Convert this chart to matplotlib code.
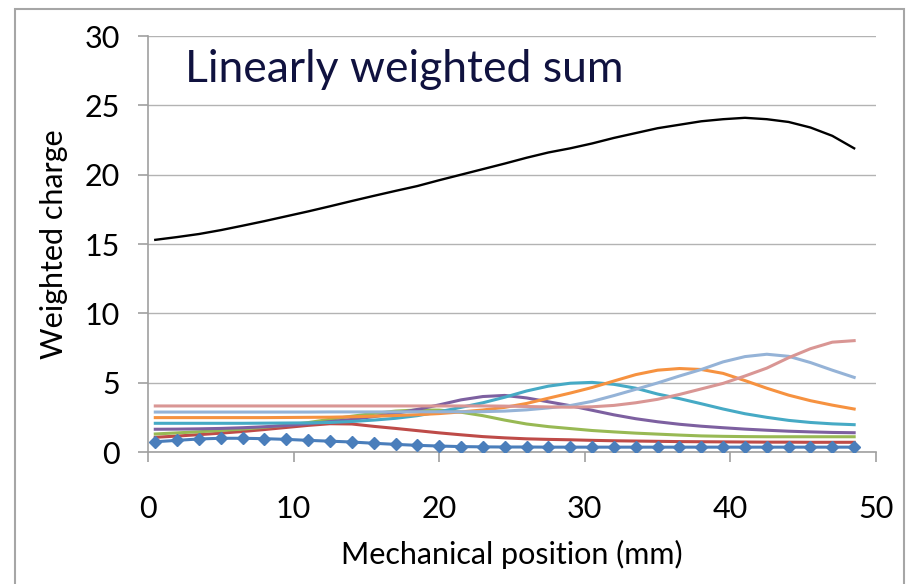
import matplotlib
matplotlib.use("Agg")
import matplotlib.pyplot as plt
from matplotlib.patches import Rectangle

plt.rcParams['font.family'] = ['Lato', 'DejaVu Sans']

# positions along the strip (mm)
position = [0.5, 2, 3.5, 5, 6.5, 8, 9.5, 11, 12.5, 14, 15.5, 17, 18.5, 20, 21.5, 23,
            24.5, 26, 27.5, 29, 30.5, 32, 33.5, 35, 36.5, 38, 39.5, 41, 42.5, 44,
            45.5, 47, 48.5]

# weighted charge per strip (weight 1..8)
strip1 = [0.74, 0.84, 0.94, 0.99, 0.99, 0.96, 0.91, 0.84, 0.78, 0.72, 0.63, 0.55, 0.48,
          0.43, 0.39, 0.37, 0.36, 0.36, 0.35, 0.35, 0.35, 0.35, 0.35, 0.35, 0.35, 0.35,
          0.35, 0.35, 0.35, 0.35, 0.35, 0.35, 0.35]
strip2 = [1.06, 1.15, 1.25, 1.36, 1.48, 1.62, 1.77, 1.92, 2.04, 2.02, 1.85, 1.70, 1.54,
          1.38, 1.24, 1.11, 1.02, 0.95, 0.91, 0.88, 0.84, 0.81, 0.79, 0.77, 0.75, 0.74,
          0.73, 0.72, 0.71, 0.71, 0.70, 0.70, 0.70]
strip3 = [1.30, 1.38, 1.46, 1.55, 1.65, 1.78, 1.93, 2.12, 2.36, 2.58, 2.78, 2.95, 3.03,
          3.02, 2.87, 2.62, 2.30, 2.02, 1.83, 1.69, 1.55, 1.45, 1.36, 1.29, 1.22, 1.16,
          1.13, 1.11, 1.10, 1.10, 1.10, 1.10, 1.10]
strip4 = [1.64, 1.65, 1.67, 1.70, 1.75, 1.82, 1.91, 2.03, 2.19, 2.35, 2.55, 2.78, 3.07,
          3.40, 3.76, 4.00, 4.08, 3.90, 3.62, 3.34, 3.01, 2.68, 2.40, 2.18, 2.00, 1.86,
          1.75, 1.65, 1.57, 1.50, 1.45, 1.41, 1.39]
strip5 = [2.07, 2.07, 2.07, 2.07, 2.07, 2.08, 2.09, 2.10, 2.13, 2.20, 2.30, 2.43, 2.62,
          2.90, 3.22, 3.55, 3.95, 4.40, 4.75, 4.96, 5.02, 4.88, 4.60, 4.18, 3.85, 3.48,
          3.10, 2.76, 2.50, 2.28, 2.13, 2.03, 1.97]
strip6 = [2.48, 2.48, 2.48, 2.48, 2.48, 2.48, 2.49, 2.50, 2.51, 2.54, 2.58, 2.63, 2.69,
          2.77, 2.89, 3.03, 3.22, 3.50, 3.88, 4.25, 4.65, 5.12, 5.58, 5.90, 6.02, 5.95,
          5.67, 5.15, 4.60, 4.10, 3.70, 3.38, 3.10]
strip7 = [2.88, 2.88, 2.88, 2.88, 2.88, 2.88, 2.88, 2.88, 2.89, 2.89, 2.89, 2.89, 2.90,
          2.90, 2.90, 2.91, 2.95, 3.04, 3.18, 3.35, 3.65, 4.07, 4.52, 4.98, 5.48, 5.95,
          6.50, 6.88, 7.05, 6.90, 6.45, 5.90, 5.38]
strip8 = [3.32, 3.32, 3.32, 3.32, 3.32, 3.32, 3.32, 3.32, 3.32, 3.32, 3.32, 3.32, 3.32,
          3.32, 3.32, 3.32, 3.31, 3.28, 3.25, 3.23, 3.26, 3.36, 3.55, 3.80, 4.15, 4.55,
          4.95, 5.48, 6.05, 6.80, 7.45, 7.92, 8.03]
total = [15.30, 15.50, 15.72, 16.00, 16.32, 16.65, 17.00, 17.35, 17.72, 18.10, 18.47,
         18.83, 19.18, 19.60, 20.00, 20.40, 20.80, 21.22, 21.60, 21.90, 22.25, 22.65,
         23.00, 23.35, 23.60, 23.85, 24.00, 24.10, 24.00, 23.80, 23.40, 22.80, 21.90]

strips = [strip2, strip3, strip4, strip5, strip6, strip7, strip8]
colors = ['#BE4B48', '#98B954', '#7D60A0', '#46AAC5', '#F69240', '#95B3D7', '#D99694']

fig = plt.figure(figsize=(9.07, 5.84), dpi=100)
ax = fig.add_axes([148 / 907, 132 / 584, 728 / 907, 416 / 584])

ax.plot(position, strip1, color='#4A7EBB', lw=2.2, marker='D', markersize=6,
        zorder=10)
for s, c in zip(strips, colors):
    ax.plot(position, s, color=c, lw=2.2)
ax.plot(position, total, color='black', lw=1.7)

ax.set_xlim(0, 50)
ax.set_ylim(0, 30)
ax.set_xticks(range(0, 51, 10))
ax.set_yticks(range(0, 31, 5))
ax.grid(axis='y', color='#B3B3B3', lw=1)
ax.set_axisbelow(True)
for side in ['top', 'right']:
    ax.spines[side].set_visible(False)
for side in ['left', 'bottom']:
    ax.spines[side].set_color('#A0A0A0')
    ax.spines[side].set_linewidth(1.2)
ax.tick_params(axis='both', direction='out', length=7, width=1.2, color='#A0A0A0',
               labelsize=22, labelcolor='black')
ax.tick_params(axis='x', pad=24)
ax.tick_params(axis='y', pad=13)

ax.set_xlabel('Mechanical position (mm)', fontsize=22, labelpad=12)
ax.set_ylabel('Weighted charge', fontsize=22, labelpad=12)

fig.text(185 / 907, (584 - 82) / 584, 'Linearly weighted sum', fontsize=32,
         color='#10123F', va='baseline', ha='left')

# chart frame
fig.patches.append(Rectangle((15 / 907, -0.1), 889 / 907, 1.1 - 9 / 584,
                             transform=fig.transFigure, fill=False,
                             edgecolor='#A6A6A6', lw=1.5))

fig.savefig('out.png', dpi=100)
